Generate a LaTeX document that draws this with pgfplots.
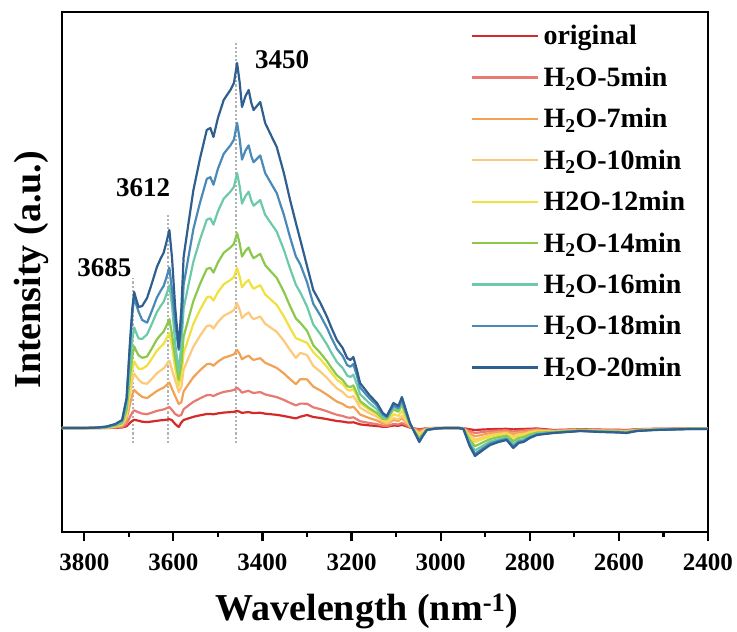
\documentclass[border=0pt]{standalone}
\usepackage{fontspec}
\setmainfont{Liberation Serif}
\usepackage{pgfplots}
\usepackage{pgfplotstable}
\pgfplotsset{compat=1.18}
\definecolor{c0}{HTML}{D42A2A}
\definecolor{c1}{HTML}{E87A72}
\definecolor{c2}{HTML}{F2A255}
\definecolor{c3}{HTML}{FCCA7A}
\definecolor{c4}{HTML}{F0E040}
\definecolor{c5}{HTML}{8CC84B}
\definecolor{c6}{HTML}{6CCAA8}
\definecolor{c7}{HTML}{4A8AB8}
\definecolor{c8}{HTML}{2F5F8F}
\pgfplotstableread{
x o s5 s7 s10 s12 s14 s16 s18 s20
3850 0 0 0 0 0 0 0 0 0
3800 0 0 0 0 0 0 0 0 0
3770 0 0 0 0 0 0 0.2 0.4 0.5
3750 0 0.1 0.2 0.3 0.4 0.6 0.8 1.2 1.5
3730 0.2 0.5 1.1 1.6 2 2.4 3 3.8 4
3715 0.5 1 2.2 3.2 3.9 4.8 5.9 7.7 8
3705 1.8 3.9 8.4 12 14.7 18 22.2 28.8 30
3697 5.3 11.4 24.6 35.2 43.1 52.8 65.1 84.5 88
3692 7.2 15.6 33.6 48 58.8 72 88.8 115.2 120
3688 8.2 17.7 38.1 54.4 66.6 81.6 100.6 130.6 136
3683 7.7 16.6 35.8 51.2 62.7 76.8 94.7 122.9 128
3678 7.3 15.7 33.9 48.4 59.3 72.6 89.5 116.2 121
3670 6.3 14.4 31.1 45.1 59.2 70.2 89.1 108 122
3659 5.9 13.8 29.9 44.2 62.4 71.5 93.6 105.3 130
3648 6.5 15.4 33.4 49.3 69.6 79.8 104.4 117.5 145
3637 7.2 17.1 37 54.7 77.3 88.6 115.9 130.4 161
3628 7.7 18 39.1 57.8 81.6 93.5 122.4 137.7 170
3622 7.9 18.6 40.3 59.5 84 96.3 126 141.8 175
3616 8.3 19.6 42.6 62.9 88.8 101.8 133.2 149.9 185
3609 8.9 21 45.5 67.3 95 108.9 142.6 160.4 198
3603 7.7 18 39.1 57.8 81.6 93.5 122.4 137.7 170
3596 4 14 32 48 60 70 85 105 121
3588 1 12 24 36 42 48 56 78 80
3582 5.6 13.2 25.7 41 52.6 64.1 83.9 100.3 120
3577 8 18.8 36.6 58.5 74.9 91.3 119.5 143 171
3566 9.6 22.6 43.9 70.1 89.8 109.5 143.3 171.4 205
3555 11.2 26.2 50.9 81.4 104.2 127.1 166.4 199 238
3540 12.7 29.7 57.8 92.3 118.3 144.2 188.7 225.7 270
3525 14 32.8 63.8 101.9 130.5 159.1 208.3 249.1 298
3517 14.1 33 64.2 102.6 131.4 160.2 209.7 250.8 300
3510 13.7 32 62.3 99.5 127.5 155.4 203.4 243.3 291
3500 14.6 34.1 66.3 106 135.8 165.5 216.7 259.2 310
3487 15.4 36.1 70.2 112.2 143.7 175.2 229.3 274.2 328
3472 15.9 37.2 72.3 115.6 148 180.5 236.3 282.6 338
3464 16.2 38 73.8 118 151.1 184.2 241.2 288.4 345
3457 17.2 40.2 78.1 124.8 159.9 194.9 255.1 305.1 365
3451 16.2 38 73.8 118 151.1 184.2 241.2 288.4 345
3446 15.1 35.3 68.7 109.8 140.6 171.4 224.4 268.4 321
3438 15.6 36.5 71 113.5 145.4 177.3 232.1 277.6 332
3431 15.9 37.2 72.3 115.6 148 180.5 236.3 282.6 338
3425 15.3 35.8 69.6 111.2 142.4 173.6 227.2 271.7 325
3420 14.9 35 68.1 108.8 139.3 169.8 222.3 265.8 318
3405 15.3 35.9 69.8 111.5 142.8 174.1 227.9 272.5 326
3394 14.3 33.6 65.3 104.3 133.6 162.9 213.2 255 305
3380 13.7 32.1 62.5 99.9 127.9 155.9 204.1 244.1 292
3368 13.2 30.9 60.1 96.1 123.1 150.1 196.4 234.9 281
3352 12 28.1 54.6 87.2 111.7 136.2 178.2 213.2 255
3338 10.7 25.1 48.8 78 99.9 121.8 159.4 190.6 228
3325 9.6 22.6 43.9 70.1 89.8 109.5 143.3 171.4 205
3315 11.3 24.4 48.9 75.2 88.1 105.2 135.4 163.6 188
3300 13 24.3 48.6 72.9 85.1 97.2 121.5 145.8 162
3286 11 20.7 41.4 62.1 75.9 82.8 103.5 124.2 138
3270 10 18.8 37.5 56.3 68.8 75 93.8 112.5 125
3255 8.9 16.7 33.3 50 61 66.6 83.3 99.9 111
3245 8 15 30 45 55 60 75 90 100
3233 7 13.2 26.4 39.6 48.4 52.8 66 79.2 88
3220 6.4 12 24 36 44 48 60 72 80
3210 5.6 10.5 21 31.5 38.5 42 52.5 63 70
3203 5.4 10.2 20.4 30.6 37.4 40.8 51 61.2 68
3196 5.7 10.7 21.3 32 39 42.6 53.3 63.9 71
3188 4.6 8.7 17.4 26.1 31.9 34.8 43.5 52.2 58
3181 3.6 6.8 13.5 20.3 24.8 27 33.8 40.5 45
3160 2.6 5 9.9 14.9 18.2 19.8 24.8 29.7 33
3143 2 3.8 7.5 11.3 13.8 15 18.8 22.5 25
3130 1.2 2.3 4.5 6.8 8.3 9 11.3 13.5 15
3121 1.2 1.9 3.8 4.7 6.6 8.9 10.1 10.8 12
3106 2.5 4 8 9.8 13.8 18.5 21 22.5 25
3095 2.2 3.5 7 8.6 12.1 16.3 18.5 19.8 22
3087 3.1 5 9.9 12.1 17.1 22.9 26 27.9 31
3078 1.8 2.9 5.8 7 9.9 13.3 15.1 16.2 18
3069 0.5 0.8 1.6 2 2.8 3.7 4.2 4.5 5
3058 -0.5 -0.8 -1.6 -2 -2.8 -3.7 -4.2 -4.5 -5
3048 -1.4 -2.2 -4.5 -5.5 -7.7 -10.4 -11.8 -12.6 -14
3040 -0.8 -1.3 -2.6 -3.1 -4.4 -5.9 -6.7 -7.2 -8
3031 -0.2 -0.3 -0.6 -0.8 -1.1 -1.5 -1.7 -1.8 -2
3010 0 0 0 -0.1 -0.2 -0.3 -0.4 -0.5 -0.5
2990 0 0 0 0 0 0 0 0 0
2960 0 0 0 0 0 0 0 0 0
2949 -0.1 -0.2 -0.3 -0.4 -0.5 -0.7 -0.8 -0.9 -1
2935 -1.3 -3.2 -5.4 -7.6 -9 -11.7 -14.4 -16.6 -18
2923 -2 -5 -8.4 -11.8 -14 -18.2 -22.4 -25.8 -28
2905 -1.5 -4 -6.6 -9.2 -11 -14.3 -17.6 -20.2 -22
2889 -1.2 -3.1 -5.1 -7.1 -8.5 -11.1 -13.6 -15.6 -17
2870 -1 -2.5 -4.2 -5.9 -7 -9.1 -11.2 -12.9 -14
2852 -0.8 -2.2 -3.6 -5 -6 -7.8 -9.6 -11 -12
2837 -1.4 -3.6 -6 -8.4 -10 -13 -16 -18.4 -20
2825 -1.1 -2.7 -4.5 -6.3 -7.5 -9.8 -12 -13.8 -15
2814 -1 -2.5 -4.2 -5.9 -7 -9.1 -11.2 -12.9 -14
2800 -0.7 -1.8 -3 -4.2 -5 -6.5 -8 -9.2 -10
2784 -0.5 -1.3 -2.1 -2.9 -3.5 -4.6 -5.6 -6.4 -7
2747 -2 -2.5 -3 -3.5 -3.8 -4 -4.5 -4.8 -5
2700 -1.4 -1.8 -2.1 -2.5 -2.6 -2.8 -3.2 -3.3 -3.5
2687 -1.2 -1.5 -1.8 -2.1 -2.3 -2.4 -2.7 -2.9 -3
2640 -1.6 -2 -2.4 -2.8 -3 -3.2 -3.6 -3.8 -4
2600 -1.8 -2.3 -2.7 -3.2 -3.4 -3.6 -4.1 -4.3 -4.5
2583 -2 -2.5 -3 -3.5 -3.8 -4 -4.5 -4.8 -5
2560 -1.2 -1.5 -1.8 -2.1 -2.3 -2.4 -2.7 -2.9 -3
2520 -0.8 -1 -1.2 -1.4 -1.5 -1.6 -1.8 -1.9 -2
2480 -0.6 -0.8 -0.9 -1.1 -1.1 -1.2 -1.4 -1.4 -1.5
2440 -0.4 -0.5 -0.6 -0.7 -0.8 -0.8 -0.9 -1 -1
2400 -0.4 -0.5 -0.6 -0.7 -0.8 -0.8 -0.9 -1 -1
}\spec
\begin{document}
\begin{tikzpicture}
\useasboundingbox (0,0) rectangle (737bp,632bp);
\begin{axis}[
  at={(62bp,100bp)}, anchor=south west,
  scale only axis, width=646bp, height=520bp,
  x dir=reverse, xmin=2400, xmax=3850,
  ymin=-104, ymax=416,
  axis line style={line width=2.6bp},
  xtick={2400,2600,...,3800},
  minor x tick num=1,
  xtick pos=bottom, tick align=outside,
  major tick length=9bp, minor tick length=5bp,
  every tick/.style={black, line width=2.2bp},
  ytick=\empty,
  /pgf/number format/assume math mode=true,
  /pgf/number format/set thousands separator={},
  xticklabel style={font=\fontsize{25bp}{30bp}\selectfont\bfseries, yshift=-9bp},
  xlabel={Wavelength (nm\textsuperscript{-1})},
  ylabel={Intensity (a.u.)},
  xlabel style={font=\fontsize{38bp}{44bp}\selectfont\bfseries, at={(axis description cs:0.472,-0.152)}, anchor=center},
  ylabel style={font=\fontsize{38bp}{44bp}\selectfont\bfseries, at={(axis description cs:-0.048,0.504)}, anchor=center},
  legend cell align=left,
  legend image code/.code={\draw[#1, line width=2.4bp] (0bp,0bp) -- (66bp,0bp);},
  legend style={draw=none, fill=none, at={(0.633,0.982)}, anchor=north west,
    font=\fontsize{28bp}{33bp}\selectfont\bfseries, row sep=12.5bp, inner sep=0pt,
    nodes={inner sep=4bp}},
  every axis plot/.append style={line width=2.2bp, line join=round},
]
\addplot[gray!60, dotted, line width=2bp, forget plot] coordinates {(3459,-15) (3459,385)};
\addplot[gray!60, dotted, line width=2bp, forget plot] coordinates {(3611,-15) (3611,213)};
\addplot[gray!60, dotted, line width=2bp, forget plot] coordinates {(3691,-15) (3691,150)};
\addplot[c0] table[x=x,y=o]{\spec};
\addlegendentry{original}
\addplot[c1] table[x=x,y=s5]{\spec};
\addlegendentry{H\textsubscript{2}O-5min}
\addplot[c2] table[x=x,y=s7]{\spec};
\addlegendentry{H\textsubscript{2}O-7min}
\addplot[c3] table[x=x,y=s10]{\spec};
\addlegendentry{H\textsubscript{2}O-10min}
\addplot[c4] table[x=x,y=s12]{\spec};
\addlegendentry{H2O-12min}
\addplot[c5] table[x=x,y=s14]{\spec};
\addlegendentry{H\textsubscript{2}O-14min}
\addplot[c6] table[x=x,y=s16]{\spec};
\addlegendentry{H\textsubscript{2}O-16min}
\addplot[c7] table[x=x,y=s18]{\spec};
\addlegendentry{H\textsubscript{2}O-18min}
\addplot[c8] table[x=x,y=s20]{\spec};
\addlegendentry{H\textsubscript{2}O-20min}
\node[font=\fontsize{27bp}{32bp}\selectfont\bfseries] at (axis cs:3356,368) {3450};
\node[font=\fontsize{27bp}{32bp}\selectfont\bfseries] at (axis cs:3668,240) {3612};
\node[font=\fontsize{27bp}{32bp}\selectfont\bfseries] at (axis cs:3755,160) {3685};
\end{axis}
\end{tikzpicture}
\end{document}
